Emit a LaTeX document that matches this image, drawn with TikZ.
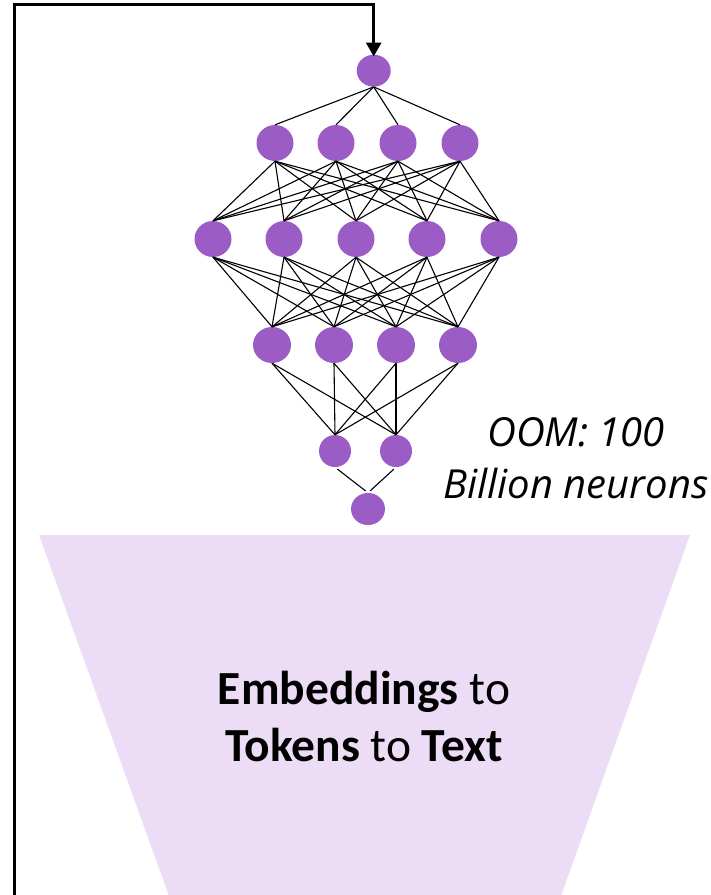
\documentclass[tikz,border=0pt]{standalone}
\usepackage{fontspec}
\setmainfont{Carlito}
\newfontfamily\oomfont{Open Sans}
\usetikzlibrary{shapes.geometric,arrows.meta}
\definecolor{neuron}{HTML}{9C5CC5}
\definecolor{funnelfill}{HTML}{EDDCF6}
\begin{document}
\begin{tikzpicture}[x=1pt,y=-1pt,
  nrn/.style={ellipse,fill=neuron,draw=none,inner sep=0pt},
  nsmall/.style={nrn,minimum width=34pt,minimum height=32pt},
  nbig/.style={nrn,minimum width=37pt,minimum height=36pt},
  nmid/.style={nrn,minimum width=32pt,minimum height=32pt},
  edge/.style={draw=black,line width=1.1pt},
  loop/.style={draw=black,line width=3pt,-{Triangle[width=15pt,length=14pt]}}]
\useasboundingbox (0,0) rectangle (711,895);
% funnel
\fill[funnelfill] (39,535) -- (690,535) -- (561,896) -- (169,896) -- cycle;
\node[align=center,font=\fontsize{47.5}{57}\selectfont] (fnltext) at (364,716)
  {\textbf{Embeddings} to\\\textbf{Tokens} to \textbf{Text}};
% neurons
\node[nsmall] (a1) at (373.7,70.7) {};
\foreach \x [count=\i] in {275,336,398,460} \node[nbig] (b\i) at (\x,143) {};
\foreach \x [count=\i] in {213,284,356,427,499} \node[nbig] (c\i) at (\x,239) {};
\foreach \x [count=\i] in {272,334,396,458} \node[nbig,minimum width=38pt] (d\i) at (\x,345) {};
\foreach \x [count=\i] in {335,396} \node[nmid] (e\i) at (\x,451) {};
\node[nsmall] (f1) at (368,509) {};
% edges
\foreach \j in {1,...,4} \draw[edge] (a1.south) -- (b\j.north);
\foreach \i in {1,...,4} \foreach \j in {1,...,5} \draw[edge] (b\i.south) -- (c\j.north);
\foreach \i in {1,...,5} \foreach \j in {1,...,4} \draw[edge] (c\i.south) -- (d\j.north);
\foreach \i in {1,...,4} \foreach \j in {1,2} \draw[edge] (d\i.south) -- (e\j.north);
\foreach \i in {1,2} \draw[edge,shorten <=3pt,shorten >=3pt] (e\i.south) -- (f1.north);
% label
\node[align=center,font=\oomfont\itshape\fontsize{40}{52}\selectfont] (oom) at (576,458)
  {OOM: 100\\Billion neurons};
% feedback loop
\coordinate (start) at (14.5,895);
\coordinate (corner) at (14.5,4.5);
\draw[loop] (start) -- (corner) -| ([yshift=-2pt]a1.north);
\end{tikzpicture}
\end{document}
